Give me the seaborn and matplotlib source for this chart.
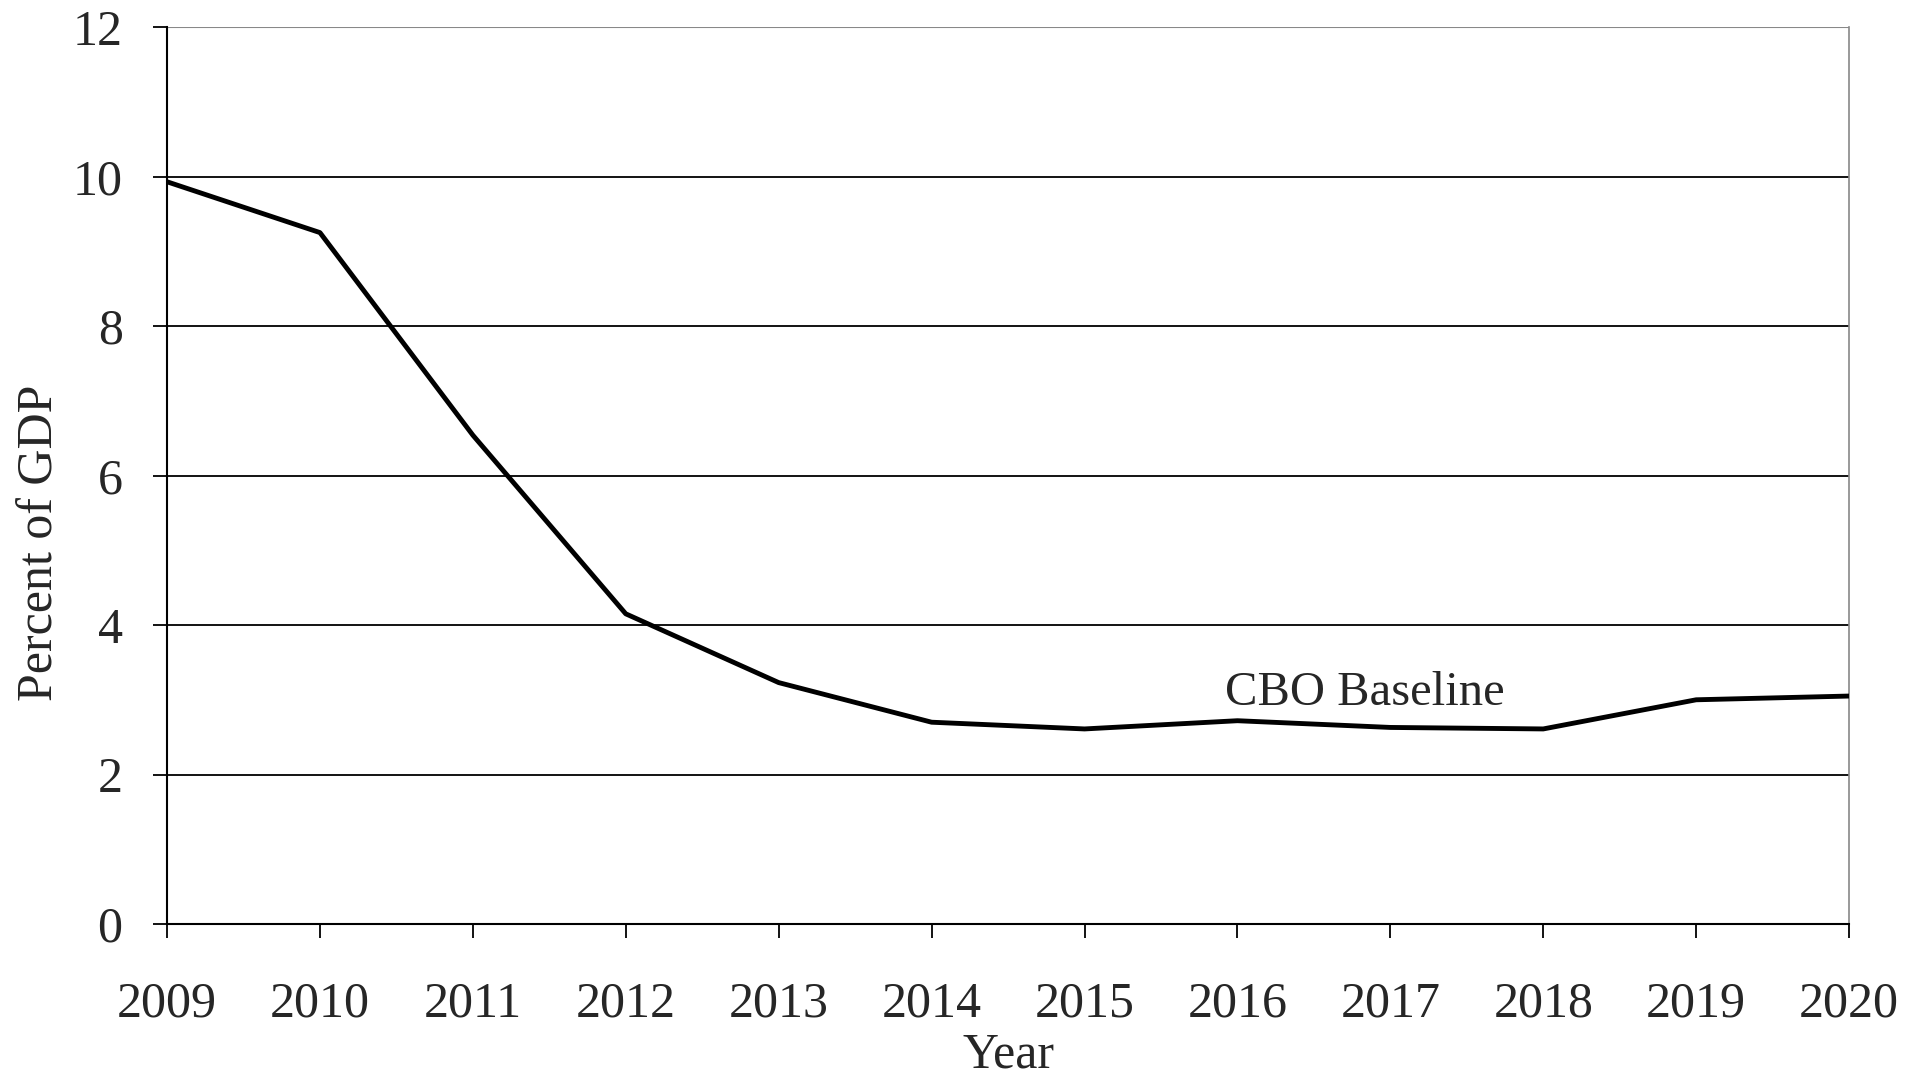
import pandas as pd
import matplotlib
matplotlib.use("Agg")
import matplotlib.pyplot as plt
import seaborn as sns

# Datos (porcentaje del PIB)
years = [2009, 2010, 2011, 2012, 2013, 2014, 2015, 2016, 2017, 2018, 2019, 2020]
cbo_baseline = [9.93, 9.25, 6.54, 4.15, 3.23, 2.70, 2.61, 2.72, 2.63, 2.61, 3.00, 3.05]
y_ticks = [0, 2, 4, 6, 8, 10, 12]

data = pd.DataFrame({"year": years, "pct": cbo_baseline})

sns.set_style("white")
plt.rcParams["font.family"] = ["Liberation Serif", "DejaVu Serif"]

fig = plt.figure(figsize=(19.11, 10.81), dpi=100)
ax = fig.add_axes([0.0874, 0.1452, 0.8802, 0.8298])

# Rejilla horizontal
for yv in y_ticks[1:-1]:
    ax.axhline(yv, color="black", lw=1.3, zorder=1)
ax.axhline(12, color="#888888", lw=1.5, zorder=1)

sns.lineplot(data=data, x="year", y="pct", color="black", lw=3.5, ax=ax, zorder=3)

ax.text(2015.92, 2.93, "CBO Baseline", fontsize=35, va="baseline", ha="left")

ax.set_xlim(2009, 2020)
ax.set_ylim(0, 12)
ax.set_xticks(years)
ax.set_yticks(y_ticks)
ax.tick_params(axis="x", direction="out", length=10, width=1.3, pad=31,
               labelsize=36, bottom=True, color="black")
ax.tick_params(axis="y", direction="out", length=10, width=1.3, pad=22,
               labelsize=36, left=True, color="black")

ax.set_xlabel("Year", fontsize=36, labelpad=3)
ax.set_ylabel("Percent of GDP", fontsize=36)
ax.yaxis.label.set_va("center")
ax.yaxis.set_label_coords(-0.0755, 0.425)

for side in ["left", "bottom"]:
    ax.spines[side].set_color("black")
    ax.spines[side].set_linewidth(1.5)
ax.spines["top"].set_visible(False)
ax.spines["right"].set_color("#888888")
ax.spines["right"].set_linewidth(1.2)

plt.savefig("out.png", dpi=100)
